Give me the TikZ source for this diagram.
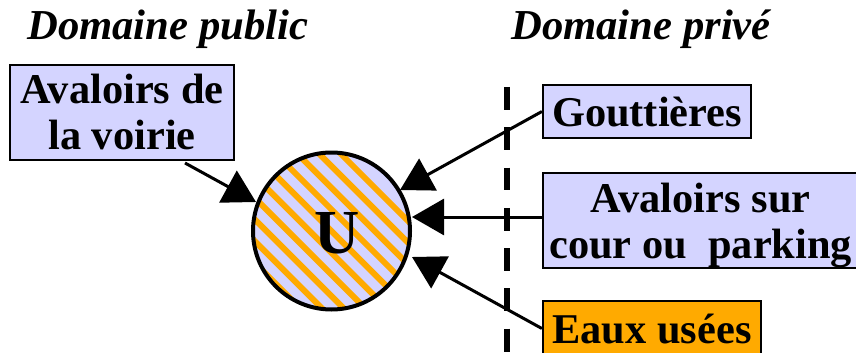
\documentclass[tikz,border=0pt]{standalone}
\usepackage{fontspec}
\setmainfont{Liberation Serif}
\usetikzlibrary{arrows.meta,calc}
\definecolor{paleblue}{RGB}{212,212,255}
\definecolor{stripe}{RGB}{255,170,0}
\tikzset{
  x=0.75pt,y=-0.75pt,
  boxnode/.style={draw=black,line width=1.65pt,fill=paleblue,inner sep=0pt,align=center,
    font=\fontsize{31.8pt}{34.5pt}\selectfont\bfseries},
  headnode/.style={inner sep=0pt,anchor=base west,font=\fontsize{32pt}{34.5pt}\selectfont\bfseries\itshape},
  feed/.style={draw=black,line width=2.25pt,-{Triangle[length=24pt,width=27pt]}},
  boundary/.style={draw=black,line width=4.5pt,dash pattern=on 17.2pt off 13pt}
}
\begin{document}
\begin{tikzpicture}
\useasboundingbox (0,0) rectangle (856,353);
\clip (0,0) rectangle (856,353);
\node[headnode] (hpub) at (27,40) {Domaine public};
\node[headnode] (hpri) at (511,40) {Domaine privé};
\coordinate (dtop) at (507,87);
\coordinate (dbot) at (507,353);
\draw[boundary] (dtop) -- (dbot);
\node[boxnode,text height=54.8pt,text depth=0pt,minimum width=168pt,minimum height=71pt] (voirie) at (122,112.5) {Avaloirs de\\la voirie};
\node[boxnode,text height=22.8pt,text depth=0pt,minimum width=156pt,minimum height=40pt] (gout) at (647,111.5) {Gouttières};
\node[boxnode,text height=56.6pt,text depth=0pt,minimum width=236.5pt,minimum height=71pt] (cour) at (700.7,220.5) {Avaloirs sur\\cour ou\ \ parking};
\node[boxnode,fill=stripe,text height=21.8pt,text depth=0pt,minimum width=163.5pt,minimum height=41.25pt] (eaux) at (652,328.5) {Eaux usées};
\coordinate (c) at (331.5,231);
\begin{scope}
\clip (c) circle[radius=78.5];
\fill[paleblue] (c) circle[radius=78.5];
\foreach \k in {0,...,16}{
  \pgfmathsetmacro{\off}{187-21.67*\k}
  \draw[stripe,line width=4.5pt] (\off+100,100) -- (\off+320,320);
}
\end{scope}
\node[circle,draw=black,line width=3pt,minimum size=117.75pt,inner sep=0pt] (u) at (c) {};
\node[inner sep=0pt,anchor=base,font=\fontsize{47pt}{48pt}\selectfont\bfseries] (ulabel) at (337,253) {U};
\coordinate (tipv) at (256,202);
\coordinate (tipg) at (400,190);
\coordinate (tipc) at (412,217);
\coordinate (tipe) at (412,257);
\coordinate (startv) at (185,163);
\draw[feed] (startv) -- (tipv);
\draw[feed] (gout.west) -- (tipg);
\draw[feed] (cour.west |- tipc) -- (tipc);
\draw[feed] (eaux.west) -- (tipe);
\end{tikzpicture}
\end{document}
